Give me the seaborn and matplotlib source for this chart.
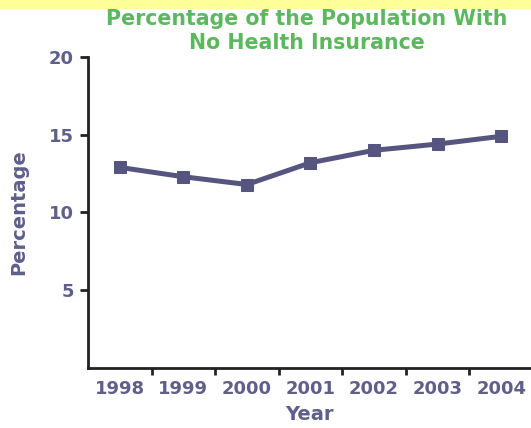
import matplotlib
matplotlib.use("Agg")
import matplotlib.pyplot as plt
import seaborn as sns
import pandas as pd
from matplotlib.patches import Rectangle

years = ["1998", "1999", "2000", "2001", "2002", "2003", "2004"]
percent = [12.9, 12.3, 11.8, 13.2, 14.0, 14.4, 14.9]
y_ticks = [5, 10, 15, 20]

title = "Percentage of the Population With\nNo Health Insurance"
xlabel = "Year"
ylabel = "Percentage"

sns.set_style("ticks")
plt.rcParams["font.family"] = ["DejaVu Sans"]

line_color = "#55557f"
text_color = "#5f5f8c"
title_color = "#5cb85c"

df = pd.DataFrame({"x": range(len(years)), "year": years, "pct": percent})

fig = plt.figure(figsize=(5.31, 4.28), dpi=100)
fig.patch.set_facecolor("white")
ax = fig.add_axes([88 / 531, 1 - 368 / 428, 1 - 88 / 531, (368 - 57) / 428])

sns.lineplot(data=df, x="x", y="pct", ax=ax, color=line_color, linewidth=3.6,
             marker="s", markersize=9, markeredgecolor=line_color,
             markerfacecolor=line_color)

ax.set_xlim(-0.5, 6.47)
ax.set_ylim(0, 20)
ax.set_yticks(y_ticks)
ax.set_yticklabels([str(v) for v in y_ticks], fontsize=13, fontweight="bold",
                   color=text_color)
ax.set_xticks(range(len(years)))
ax.set_xticklabels(years, fontsize=13, fontweight="bold", color=text_color)
ax.set_xticks([i + 0.5 for i in range(len(years) - 1)], minor=True)
ax.tick_params(axis="x", which="major", length=0, pad=9)
ax.tick_params(axis="x", which="minor", length=5, width=2, color="#222222",
               direction="out")
ax.tick_params(axis="y", which="major", length=6, width=2, color="#222222",
               direction="out", pad=4)

for s in ["top", "right"]:
    ax.spines[s].set_visible(False)
for s in ["left", "bottom"]:
    ax.spines[s].set_linewidth(2)
    ax.spines[s].set_color("#222222")

ax.set_xlabel(xlabel, fontsize=14, fontweight="bold", color=text_color, labelpad=5)
ax.set_ylabel(ylabel, fontsize=14, fontweight="bold", color=text_color, labelpad=15)
ax.grid(False)

fig.text(307 / 531, 1 - 31 / 428, title, ha="center", va="center",
         fontsize=14.8, fontweight="bold", color=title_color, linespacing=1.3)

fig.patches.append(Rectangle((0, 1 - 9 / 428), 1, 9 / 428, transform=fig.transFigure,
                             facecolor="#ffff99", edgecolor="none", zorder=0))

fig.savefig("out.png", dpi=100)
